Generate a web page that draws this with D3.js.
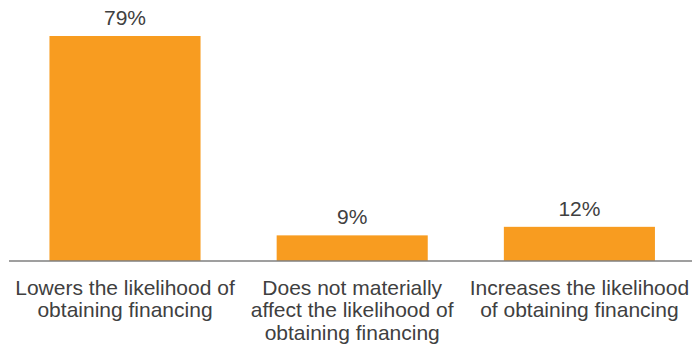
<!DOCTYPE html>
<html>
<head>
<meta charset="utf-8">
<script src="https://cdn.jsdelivr.net/npm/d3@7"></script>
<style>
  body { margin: 0; background: #fff; }
  text { font-family: "Liberation Sans", Arial, sans-serif; fill: #404040; }
</style>
</head>
<body>
<div id="chart"></div>
<script>
// chart data
var categories = [
  ["Lowers the likelihood of", "obtaining financing"],
  ["Does not materially", "affect the likelihood of", "obtaining financing"],
  ["Increases the likelihood", "of obtaining financing"]
];
var values = [79, 9, 12];
var valueLabels = ["79%", "9%", "12%"];

var width = 692, height = 348;
var baseY = 261;

var svg = d3.select('#chart')
            .append('svg')
            .attr('width', width)
            .attr('height', height);

var x = d3.scaleBand()
  .domain(d3.range(categories.length))
  .range([11.4, 693])
  .paddingInner(0.335)
  .paddingOuter(0.1675);

var y = d3.scaleLinear()
  .domain([0, 79])
  .range([baseY, 36]);

// bars
svg.selectAll('rect.bar')
  .data(values).enter()
    .append('rect')
    .attr('class', 'bar')
    .attr('x', function (d, i) { return x(i); })
    .attr('y', function (d) { return y(d); })
    .attr('width', x.bandwidth())
    .attr('height', function (d) { return baseY - y(d); })
    .attr('fill', '#F89C20');

// value labels above the bars
svg.selectAll('text.val')
  .data(values).enter()
    .append('text')
    .attr('class', 'val')
    .attr('x', function (d, i) { return x(i) + x.bandwidth() / 2; })
    .attr('y', function (d) { return y(d) - 11; })
    .attr('text-anchor', 'middle')
    .style('font-size', '21px')
    .text(function (d, i) { return valueLabels[i]; });

// baseline
svg.append('line')
  .attr('x1', 9).attr('x2', width)
  .attr('y1', baseY).attr('y2', baseY)
  .attr('stroke', '#7f7f7f')
  .attr('stroke-width', 1.5);

// category labels
var groups = svg.selectAll('g.cat')
  .data(categories).enter()
    .append('g')
    .attr('class', 'cat')
    .attr('transform', function (d, i) {
      return 'translate(' + (x(i) + x.bandwidth() / 2) + ',0)';
    });

groups.selectAll('text')
  .data(function (d) { return d; }).enter()
    .append('text')
    .attr('x', 0)
    .attr('y', function (d, j) { return 294.5 + j * 22.5; })
    .attr('text-anchor', 'middle')
    .style('font-size', '21px')
    .text(function (d) { return d; });
</script>
</body>
</html>
